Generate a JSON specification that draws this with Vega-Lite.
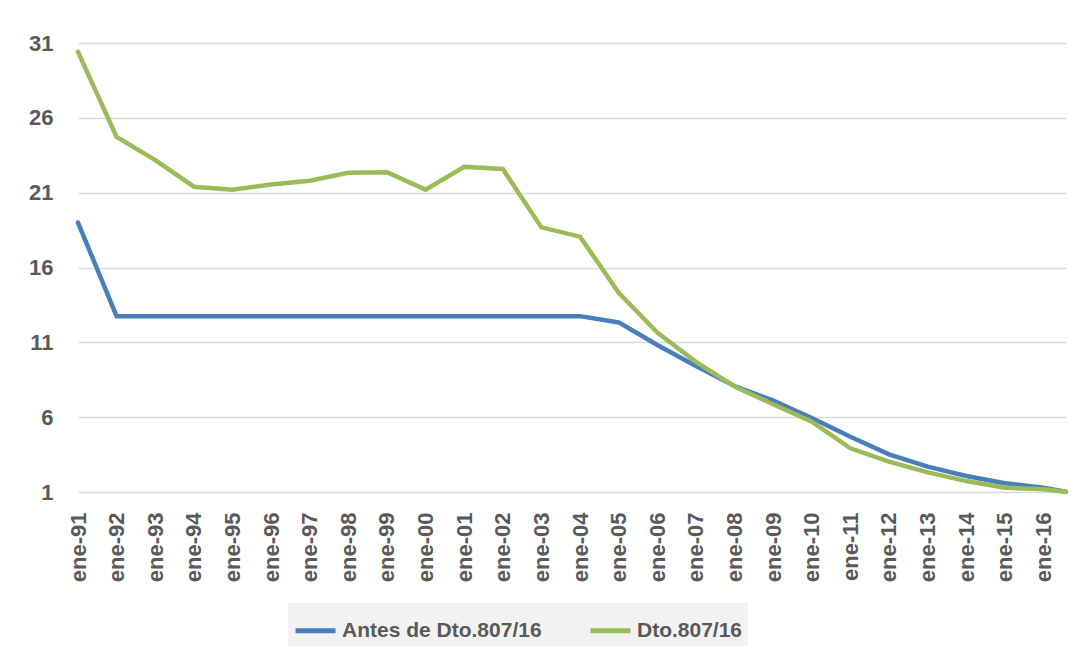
{
  "$schema": "https://vega.github.io/schema/vega-lite/v6.json",
  "autosize": "none",
  "width": 988,
  "height": 449,
  "padding": {"left": 78, "top": 43, "right": 17, "bottom": 167},
  "background": "white",
  "config": {
    "view": {"stroke": null},
    "font": "Liberation Sans"
  },
  "data": {
    "values": [
      {"fecha": "1991-01-01", "serie": "Antes de Dto.807/16", "valor": 19.0},
      {"fecha": "1992-01-01", "serie": "Antes de Dto.807/16", "valor": 12.75},
      {"fecha": "1993-01-01", "serie": "Antes de Dto.807/16", "valor": 12.75},
      {"fecha": "1994-01-01", "serie": "Antes de Dto.807/16", "valor": 12.75},
      {"fecha": "1995-01-01", "serie": "Antes de Dto.807/16", "valor": 12.75},
      {"fecha": "1996-01-01", "serie": "Antes de Dto.807/16", "valor": 12.75},
      {"fecha": "1997-01-01", "serie": "Antes de Dto.807/16", "valor": 12.75},
      {"fecha": "1998-01-01", "serie": "Antes de Dto.807/16", "valor": 12.75},
      {"fecha": "1999-01-01", "serie": "Antes de Dto.807/16", "valor": 12.75},
      {"fecha": "2000-01-01", "serie": "Antes de Dto.807/16", "valor": 12.75},
      {"fecha": "2001-01-01", "serie": "Antes de Dto.807/16", "valor": 12.75},
      {"fecha": "2002-01-01", "serie": "Antes de Dto.807/16", "valor": 12.75},
      {"fecha": "2003-01-01", "serie": "Antes de Dto.807/16", "valor": 12.75},
      {"fecha": "2004-01-01", "serie": "Antes de Dto.807/16", "valor": 12.75},
      {"fecha": "2005-01-01", "serie": "Antes de Dto.807/16", "valor": 12.33},
      {"fecha": "2006-01-01", "serie": "Antes de Dto.807/16", "valor": 10.82},
      {"fecha": "2007-01-01", "serie": "Antes de Dto.807/16", "valor": 9.42},
      {"fecha": "2008-01-01", "serie": "Antes de Dto.807/16", "valor": 8.08},
      {"fecha": "2009-01-01", "serie": "Antes de Dto.807/16", "valor": 7.1},
      {"fecha": "2010-01-01", "serie": "Antes de Dto.807/16", "valor": 5.94},
      {"fecha": "2011-01-01", "serie": "Antes de Dto.807/16", "valor": 4.69},
      {"fecha": "2012-01-01", "serie": "Antes de Dto.807/16", "valor": 3.52},
      {"fecha": "2013-01-01", "serie": "Antes de Dto.807/16", "valor": 2.69},
      {"fecha": "2014-01-01", "serie": "Antes de Dto.807/16", "valor": 2.07},
      {"fecha": "2015-01-01", "serie": "Antes de Dto.807/16", "valor": 1.58},
      {"fecha": "2016-01-01", "serie": "Antes de Dto.807/16", "valor": 1.29},
      {"fecha": "2016-08-01", "serie": "Antes de Dto.807/16", "valor": 1.02},
      {"fecha": "1991-01-01", "serie": "Dto.807/16", "valor": 30.41},
      {"fecha": "1992-01-01", "serie": "Dto.807/16", "valor": 24.73},
      {"fecha": "1993-01-01", "serie": "Dto.807/16", "valor": 23.18},
      {"fecha": "1994-01-01", "serie": "Dto.807/16", "valor": 21.4},
      {"fecha": "1995-01-01", "serie": "Dto.807/16", "valor": 21.2},
      {"fecha": "1996-01-01", "serie": "Dto.807/16", "valor": 21.55},
      {"fecha": "1997-01-01", "serie": "Dto.807/16", "valor": 21.8},
      {"fecha": "1998-01-01", "serie": "Dto.807/16", "valor": 22.33},
      {"fecha": "1999-01-01", "serie": "Dto.807/16", "valor": 22.37},
      {"fecha": "2000-01-01", "serie": "Dto.807/16", "valor": 21.2},
      {"fecha": "2001-01-01", "serie": "Dto.807/16", "valor": 22.73},
      {"fecha": "2002-01-01", "serie": "Dto.807/16", "valor": 22.58},
      {"fecha": "2003-01-01", "serie": "Dto.807/16", "valor": 18.68},
      {"fecha": "2004-01-01", "serie": "Dto.807/16", "valor": 18.06},
      {"fecha": "2005-01-01", "serie": "Dto.807/16", "valor": 14.31},
      {"fecha": "2006-01-01", "serie": "Dto.807/16", "valor": 11.65},
      {"fecha": "2007-01-01", "serie": "Dto.807/16", "valor": 9.7},
      {"fecha": "2008-01-01", "serie": "Dto.807/16", "valor": 8.05},
      {"fecha": "2009-01-01", "serie": "Dto.807/16", "valor": 6.86},
      {"fecha": "2010-01-01", "serie": "Dto.807/16", "valor": 5.7},
      {"fecha": "2011-01-01", "serie": "Dto.807/16", "valor": 3.92},
      {"fecha": "2012-01-01", "serie": "Dto.807/16", "valor": 3.03},
      {"fecha": "2013-01-01", "serie": "Dto.807/16", "valor": 2.31},
      {"fecha": "2014-01-01", "serie": "Dto.807/16", "valor": 1.73},
      {"fecha": "2015-01-01", "serie": "Dto.807/16", "valor": 1.29},
      {"fecha": "2016-01-01", "serie": "Dto.807/16", "valor": 1.18},
      {"fecha": "2016-08-01", "serie": "Dto.807/16", "valor": 1.02}
    ]
  },
  "mark": {"type": "line", "strokeWidth": 4.5, "strokeJoin": "miter", "strokeCap": "round"},
  "encoding": {
    "x": {
      "field": "fecha",
      "type": "temporal",
      "scale": {
        "type": "utc",
        "nice": false,
        "domain": [
          {"year": 1991, "month": 1, "date": 1, "utc": true},
          {"year": 2016, "month": 8, "date": 1, "utc": true}
        ]
      },
      "axis": {
        "title": null,
        "tickCount": {"interval": "year", "step": 1},
        "labelExpr": "'ene-' + utcFormat(datum.value, '%y')",
        "labelAngle": -90,
        "labelAlign": "right",
        "labelBaseline": "middle",
        "labelFontSize": 22,
        "labelFontWeight": "bold",
        "labelColor": "#595959",
        "labelPadding": 20,
        "labelOverlap": false,
        "labelFlush": false,
        "ticks": false,
        "domain": false,
        "grid": false
      }
    },
    "y": {
      "field": "valor",
      "type": "quantitative",
      "scale": {"domain": [1, 31], "nice": false, "zero": false},
      "axis": {
        "title": null,
        "values": [1, 6, 11, 16, 21, 26, 31],
        "labelFontSize": 22,
        "labelFontWeight": "bold",
        "labelColor": "#595959",
        "labelPadding": 25,
        "ticks": false,
        "domain": false,
        "grid": true,
        "gridColor": "#d9d9d9",
        "gridWidth": 1.5
      }
    },
    "color": {
      "field": "serie",
      "type": "nominal",
      "scale": {
        "domain": ["Antes de Dto.807/16", "Dto.807/16"],
        "range": ["#4a7ebb", "#9bbb59"]
      },
      "legend": {
        "title": null,
        "orient": "none",
        "direction": "horizontal",
        "legendX": 210,
        "legendY": 560,
        "fillColor": "#f2f2f2",
        "padding": 5,
        "symbolType": "stroke",
        "symbolSize": 1600,
        "symbolStrokeWidth": 5,
        "labelFontSize": 21,
        "labelFontWeight": "bold",
        "labelColor": "#595959",
        "labelOffset": 4,
        "columnPadding": 38,
        "labelLimit": 400
      }
    }
  }
}
